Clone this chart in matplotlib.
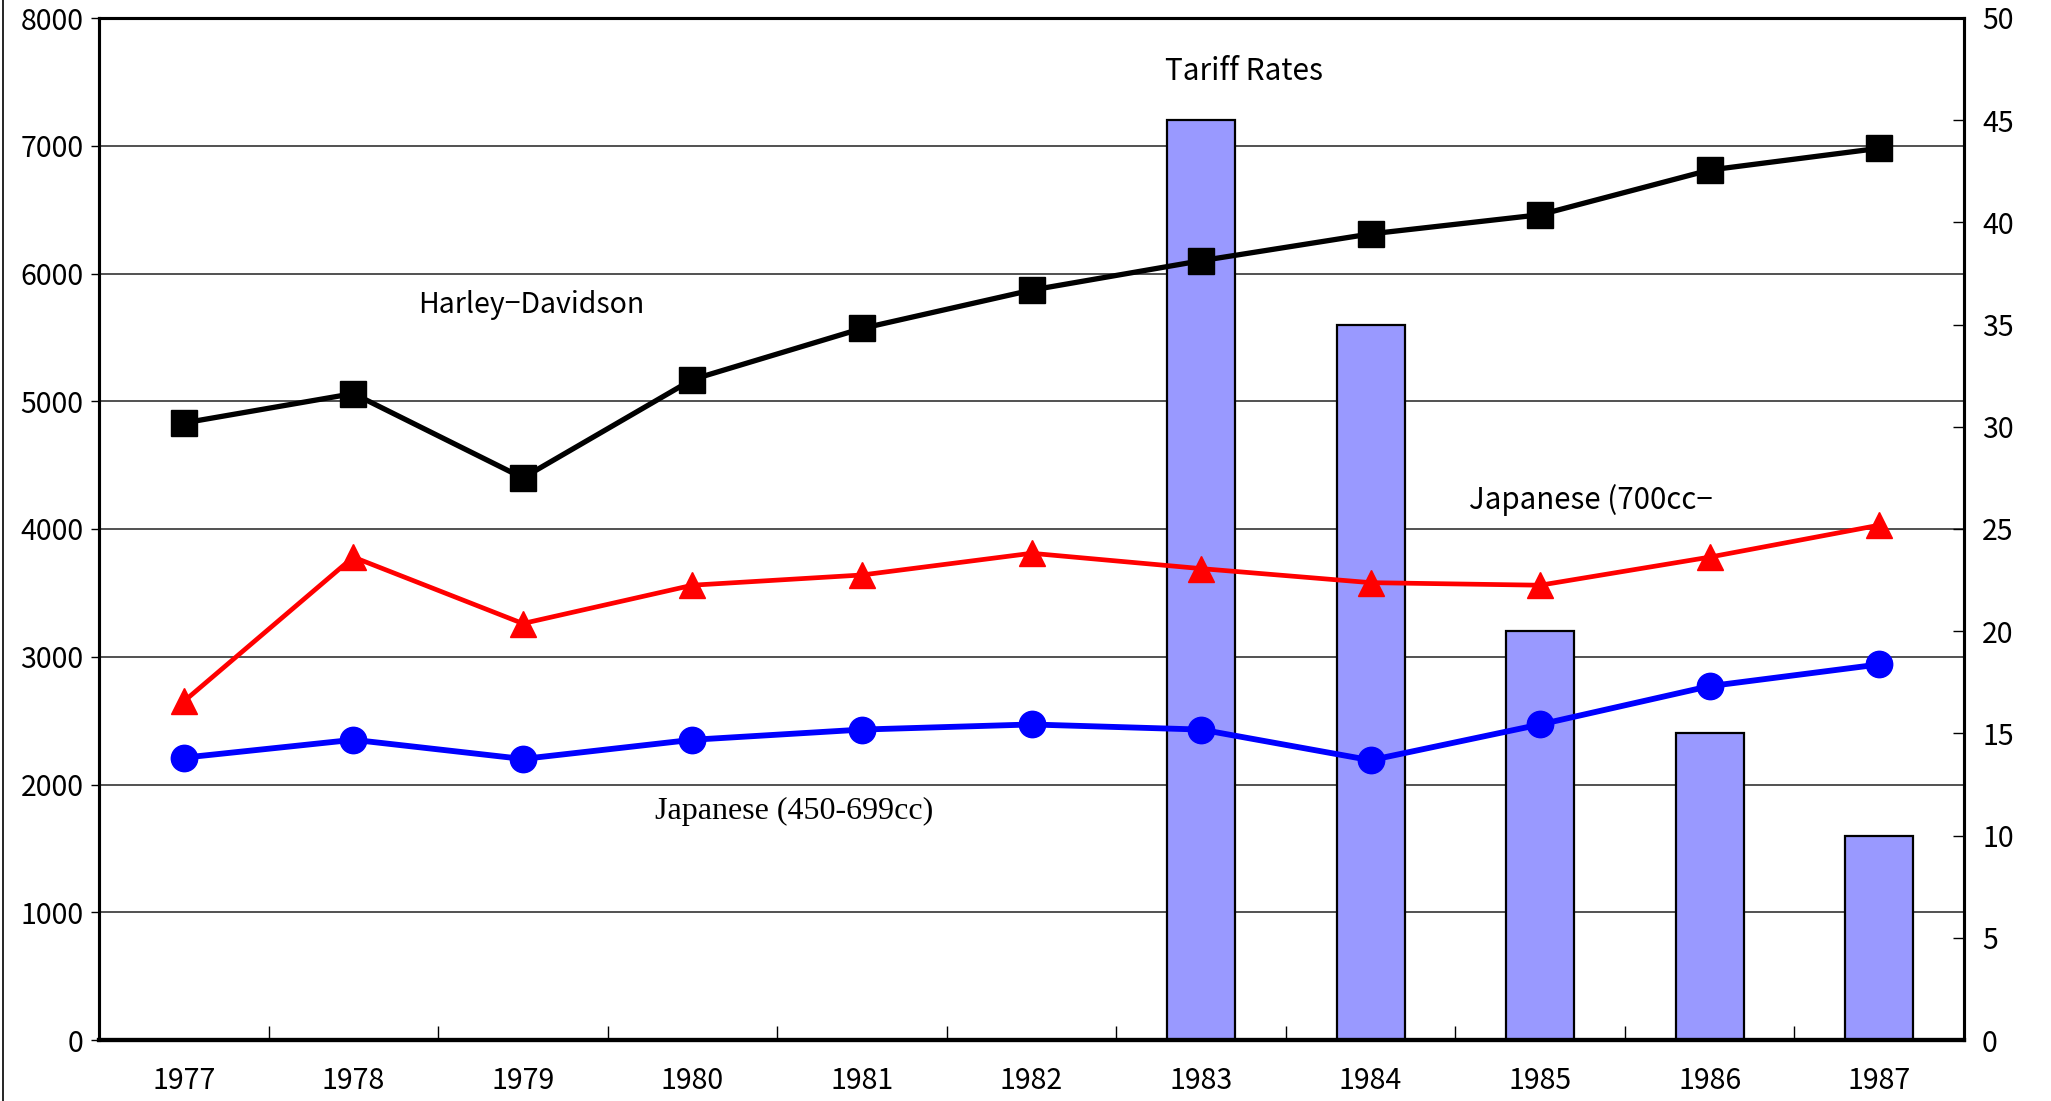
import matplotlib
matplotlib.use("Agg")
import matplotlib.pyplot as plt
from matplotlib.lines import Line2D
import numpy as np

years = ["1977", "1978", "1979", "1980", "1981", "1982", "1983", "1984", "1985", "1986", "1987"]
harley = [4830, 5060, 4400, 5170, 5570, 5870, 6100, 6310, 6460, 6810, 6980]
jap_700 = [2650, 3780, 3260, 3560, 3640, 3810, 3690, 3580, 3560, 3780, 4030]
jap_450 = [2210, 2350, 2200, 2350, 2430, 2470, 2430, 2190, 2470, 2770, 2940]
tariff = [0, 0, 0, 0, 0, 0, 45, 35, 20, 15, 10]

left_ticks = [0, 1000, 2000, 3000, 4000, 5000, 6000, 7000, 8000]
right_ticks = [0, 5, 10, 15, 20, 25, 30, 35, 40, 45, 50]

plt.rcParams['font.family'] = ['Noto Sans CJK JP', 'DejaVu Sans']

W, H = 2051, 1101
fig = plt.figure(figsize=(W / 100, H / 100), dpi=100)
ax = fig.add_axes([99 / W, 1 - 1040 / H, (1964 - 99) / W, (1040 - 18) / H])
ax2 = ax.twinx()

x = np.arange(len(years))

# bars on right axis (drawn behind lines)
ax2.bar(x, tariff, width=0.40, color='#9999FF', edgecolor='black', linewidth=1.6, zorder=1)
ax2.set_ylim(0, 50)
ax2.set_yticks(right_ticks)
ax2.tick_params(axis='y', direction='in', length=8, width=1, labelsize=20.5, pad=13)

# put line axis in front
ax.set_zorder(ax2.get_zorder() + 1)
ax.patch.set_visible(False)
ax2.patch.set_visible(True)
ax2.patch.set_facecolor('white')

# gridlines on left axis
for v in left_ticks[1:-1]:
    ax2.axhline(v / 8000 * 50, color='#333333', linewidth=1.2, zorder=0)

ax.plot(x, harley, color='black', linewidth=3.8, marker='s', markersize=19, zorder=5)
ax.plot(x, jap_700, color='#FF0000', linewidth=3.4, marker='^', markersize=19, zorder=4)
ax.plot(x, jap_450, color='#0000FF', linewidth=4.2, marker='o', markersize=19, zorder=4)

ax.set_xlim(-0.5, len(years) - 0.5)
ax.set_ylim(0, 8000)
ax.set_yticks(left_ticks)
ax.tick_params(axis='y', direction='out', length=6, width=1, labelsize=20.5, pad=5)
ax.set_xticks(x)
ax.set_xticklabels(years)
ax.tick_params(axis='x', which='major', length=0, labelsize=20.5, pad=19)
ax.set_xticks(np.arange(0.5, len(years) - 1, 1.0), minor=True)
ax.tick_params(axis='x', which='minor', direction='in', length=10, width=1)
ax2.set_xlim(-0.5, len(years) - 0.5)

for a in (ax, ax2):
    for s in a.spines.values():
        s.set_linewidth(2.2)
        s.set_color('black')
    a.spines['bottom'].set_linewidth(3)

ax.text(1.38, 5750, "Harley\u2212Davidson", fontsize=20.5, va='center', ha='left', zorder=6)
ax.text(5.79, 7580, "Tariff Rates", fontsize=21.5, va='center', ha='left', zorder=6)
ax.text(7.58, 4230, "Japanese (700cc\u2212", fontsize=21.2, va='center', ha='left', zorder=6)
ax.text(2.78, 1790, "Japanese (450-699cc)", fontsize=23, va='center', ha='left',
        family=['Liberation Serif', 'DejaVu Serif'], zorder=6)

# left border line of chart area
fig.add_artist(Line2D([2.5 / W, 2.5 / W], [0, 1], color='black', linewidth=1.2))

fig.savefig("out.png", dpi=100)
